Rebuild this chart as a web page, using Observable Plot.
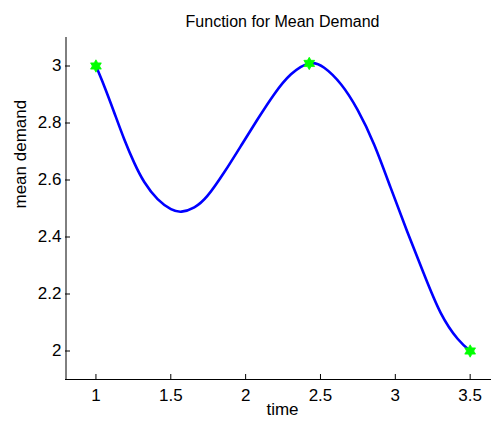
<!DOCTYPE html>
<html>
<head>
<meta charset="utf-8">
<script src="https://cdn.jsdelivr.net/npm/d3@7"></script>
<script src="https://cdn.jsdelivr.net/npm/@observablehq/plot@0.6"></script>
<style>
  html, body { margin: 0; padding: 0; background: #fff; overflow: hidden; }
  #chart svg { display: block; }
</style>
</head>
<body>
<div id="chart"></div>
<script>
// ---- data ----
const titleText = "Function for Mean Demand";
const xLabel = "time";
const yLabel = "mean demand";

const timeVals   = [1.000, 1.055, 1.122, 1.189, 1.256, 1.323, 1.412, 1.501, 1.572, 1.657, 1.746, 1.857, 1.969, 2.080, 2.191, 2.303, 2.425, 2.525, 2.637, 2.748, 2.859, 2.968, 3.078, 3.190, 3.303, 3.416, 3.500];
const demandVals = [3.000, 2.930, 2.837, 2.743, 2.660, 2.593, 2.533, 2.498, 2.489, 2.504, 2.545, 2.627, 2.720, 2.813, 2.901, 2.971, 3.009, 2.994, 2.936, 2.846, 2.724, 2.574, 2.421, 2.272, 2.134, 2.043, 2.000];

const markerTime   = [1, 2.425, 3.5];
const markerDemand = [3, 3.009, 2];

const xTicks = [1, 1.5, 2, 2.5, 3, 3.5];
const yTicks = [2, 2.2, 2.4, 2.6, 2.8, 3];
const xDomain = [0.8, 3.7];
const yDomain = [1.9, 3.1];

// ---- build tables ----
const curve = timeVals.map((t, i) => ({time: t, demand: demandVals[i]}));
const markers = markerTime.map((t, i) => ({time: t, demand: markerDemand[i]}));

// six-pointed star (hexagram) symbol
const hexagram = {
  draw(context, size) {
    const R = Math.sqrt(size / Math.PI);
    const r = R / Math.sqrt(3);
    for (let k = 0; k < 12; k++) {
      const a = -Math.PI / 2 + k * Math.PI / 6;
      const rad = k % 2 === 0 ? R : r;
      const px = rad * Math.cos(a), py = rad * Math.sin(a);
      if (k === 0) context.moveTo(px, py); else context.lineTo(px, py);
    }
    context.closePath();
  }
};

const W = 491, H = 423;
const mL = 65, mR = 0, mT = 37, mB = 44;
const frameW = W - mL - mR, frameH = H - mT - mB;

const chart = Plot.plot({
  width: W,
  height: H,
  marginLeft: mL,
  marginRight: mR,
  marginTop: mT,
  marginBottom: mB,
  style: {fontFamily: "'Liberation Sans', Arial, Helvetica, sans-serif", fontSize: "17px", color: "#000", background: "#fff"},
  x: {domain: xDomain, range: [65.5, 499.6]},
  y: {domain: yDomain},
  marks: [
    // axis lines (left and bottom only)
    Plot.ruleX([xDomain[0]], {stroke: "#000", strokeWidth: 1}),
    Plot.ruleY([yDomain[0]], {stroke: "#000", strokeWidth: 1}),
    // inward ticks
    Plot.tickX(xTicks, {x: d => d, insetTop: frameH - 5, stroke: "#000", strokeWidth: 1}),
    Plot.tickY(yTicks, {y: d => d, insetRight: frameW - 5, stroke: "#000", strokeWidth: 1}),
    // tick labels
    Plot.axisX(xTicks, {anchor: "bottom", tickSize: 0, tickPadding: 9, tickFormat: d => String(d), label: null, fontSize: 17}),
    Plot.axisY(yTicks, {anchor: "left", tickSize: 0, tickPadding: 4, tickFormat: d => String(d), label: null, fontSize: 17}),
    // curve
    Plot.line(curve, {x: "time", y: "demand", stroke: "#0000ff", strokeWidth: 2.6, curve: "natural"}),
    // markers
    Plot.dot(markers, {x: "time", y: "demand", symbol: hexagram, r: 6.2, fill: "#00ff00", stroke: "#00ff00", strokeWidth: 0.8}),
    // title and axis labels
    Plot.text([titleText], {frameAnchor: "top", dx: 4, dy: -22, fontSize: 16, fill: "#000"}),
    Plot.text([xLabel], {frameAnchor: "bottom", dx: 4, dy: 35.5, fontSize: 17, fill: "#000"}),
    Plot.text([yLabel], {frameAnchor: "left", dx: -44.5, rotate: -90, fontSize: 17, fill: "#000"})
  ]
});

document.getElementById("chart").appendChild(chart);
</script>
</body>
</html>
